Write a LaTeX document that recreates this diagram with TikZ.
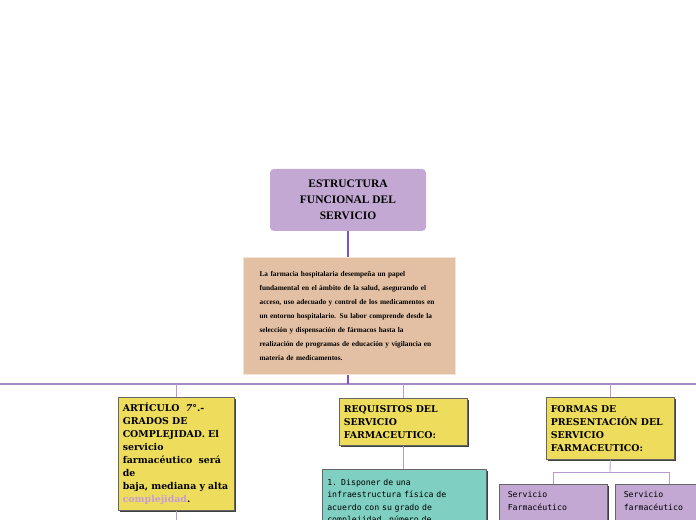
\documentclass[tikz,border=0pt]{standalone}
\usepackage{fontspec}
\setmainfont{Liberation Serif}
\newfontfamily\slabfont{DejaVu Serif}
\newfontfamily\dotfont{DejaVu Sans Mono}
\usetikzlibrary{shadows}
\definecolor{lila}{HTML}{C3A8D4}
\definecolor{lilaline}{HTML}{B79BD0}
\definecolor{lilabar}{HTML}{A68AC3}
\definecolor{lilaink}{HTML}{8A4FBF}
\definecolor{peach}{HTML}{E3C0A3}
\definecolor{peachrim}{HTML}{F3E4D8}
\definecolor{lemon}{HTML}{EEDD5C}
\definecolor{mint}{HTML}{7FCFC2}
\definecolor{pinkword}{HTML}{C79BD9}
\tikzset{titlebox/.style={fill=lila,rounded corners=4bp,inner sep=0pt,align=center,font=\bfseries\fontsize{11.5bp}{16bp}\selectfont}}
\tikzset{notebox/.style={fill=peach,draw=peachrim,line width=1.2bp,inner xsep=16bp,inner ysep=0pt,align=left,font=\bfseries\fontsize{7.3bp}{14bp}\selectfont}}
\tikzset{boxshadow/.style={drop shadow={shadow xshift=1.6bp,shadow yshift=-1.6bp,fill=black!75,opacity=1}}}
\tikzset{headbox/.style={fill=lemon,draw=black!60,line width=0.5bp,boxshadow,anchor=north west,inner xsep=4.5bp,inner ysep=0pt,align=left,font=\slabfont\bfseries\fontsize{9.4bp}{13bp}\selectfont}}
\tikzset{itembox/.style={draw=black!60,line width=0.5bp,boxshadow,anchor=north west,inner xsep=5bp,inner ysep=7.5bp,align=left,font=\dotfont\fontsize{8.2bp}{12.5bp}\selectfont}}
\tikzset{link/.style={draw=lilaline,line width=0.9bp}}

\begin{document}
\begin{tikzpicture}[x=1bp,y=-1bp]
    \useasboundingbox (0,0) rectangle (696,520);
    \clip (0,0) rectangle (696,520);
    \node [titlebox,minimum width=156bp,minimum height=62bp] (title) at (348,200) {ESTRUCTURA\\FUNCIONAL DEL\\SERVICIO};
    \node [notebox,anchor=north west,minimum width=212bp,minimum height=117bp,text width=180bp] (note) at (243,257)
        {La farmacia hospitalaria desempeña un papel\\fundamental en el ámbito de la salud, asegurando el\\acceso, uso adecuado y control de los medicamentos en\\un entorno hospitalario. Su labor comprende desde la\\selección y dispensación de fármacos hasta la\\realización de programas de educación y vigilancia en\\materia de medicamentos.};
    \coordinate (hub) at (348,384);
    \coordinate (barL) at (0,384);
    \coordinate (barR) at (696,384);
    \draw [lilabar,line width=2bp] (barL) -- (barR);
    \draw [lilaink,line width=1.5bp] (title.south) -- (title.south |- note.north);
    \draw [lilaink,line width=1.5bp] (hub |- note.south) -- (hub);
    \node [headbox,minimum width=116bp,minimum height=113bp,text width=107bp] (art) at (118,397)
        {ARTÍCULO~ \textit{7}°.-\\GRADOS DE\\COMPLEJIDAD. El\\servicio\\farmacéutico~ será\\de\\baja, mediana y alta\\\textcolor{pinkword}{complejidad}.};
    \node [headbox,minimum width=128bp,minimum height=47bp,text width=119bp] (req) at (339,398)
        {REQUISITOS DEL\\SERVICIO\\FARMACEUTICO:};
    \node [headbox,minimum width=128bp,minimum height=62bp,text width=119bp] (forms) at (546,397)
        {FORMAS DE\\PRESENTACIÓN DEL\\SERVICIO\\FARMACEUTICO:};
    \draw [link] (art.north |- hub) -- (art.north);
    \draw [link] (req.north |- hub) -- (req.north);
    \draw [link] (forms.north |- hub) -- (forms.north);
    \coordinate (artend) at (176,525);
    \draw [link] (art.south) -- (art.south |- artend);
    \node [itembox,fill=mint,inner ysep=10bp,text width=154bp,text depth=60bp] (infra) at (322,469)
        {1. Disponer de una\\infraestructura física de\\acuerdo con su grado de\\complejidad, número de};
    \draw [link] (req.south) -- (req.south |- infra.north);
    \node [itembox,fill=lila,inner xsep=8.5bp,text width=91bp,text depth=40bp] (hosp) at (499,484) {Servicio\\Farmacéutico};
    \node [itembox,fill=lila,inner xsep=8.5bp,text width=91bp,text depth=40bp] (amb) at (615,484) {Servicio\\farmacéutico};
    \coordinate (fork) at (610,472);
    \draw [link] (forms.south) -- (fork);
    \draw [link] (hosp.north) -- (hosp.north |- fork) -- (amb.north |- fork) -- (amb.north);
\end{tikzpicture}
\end{document}
